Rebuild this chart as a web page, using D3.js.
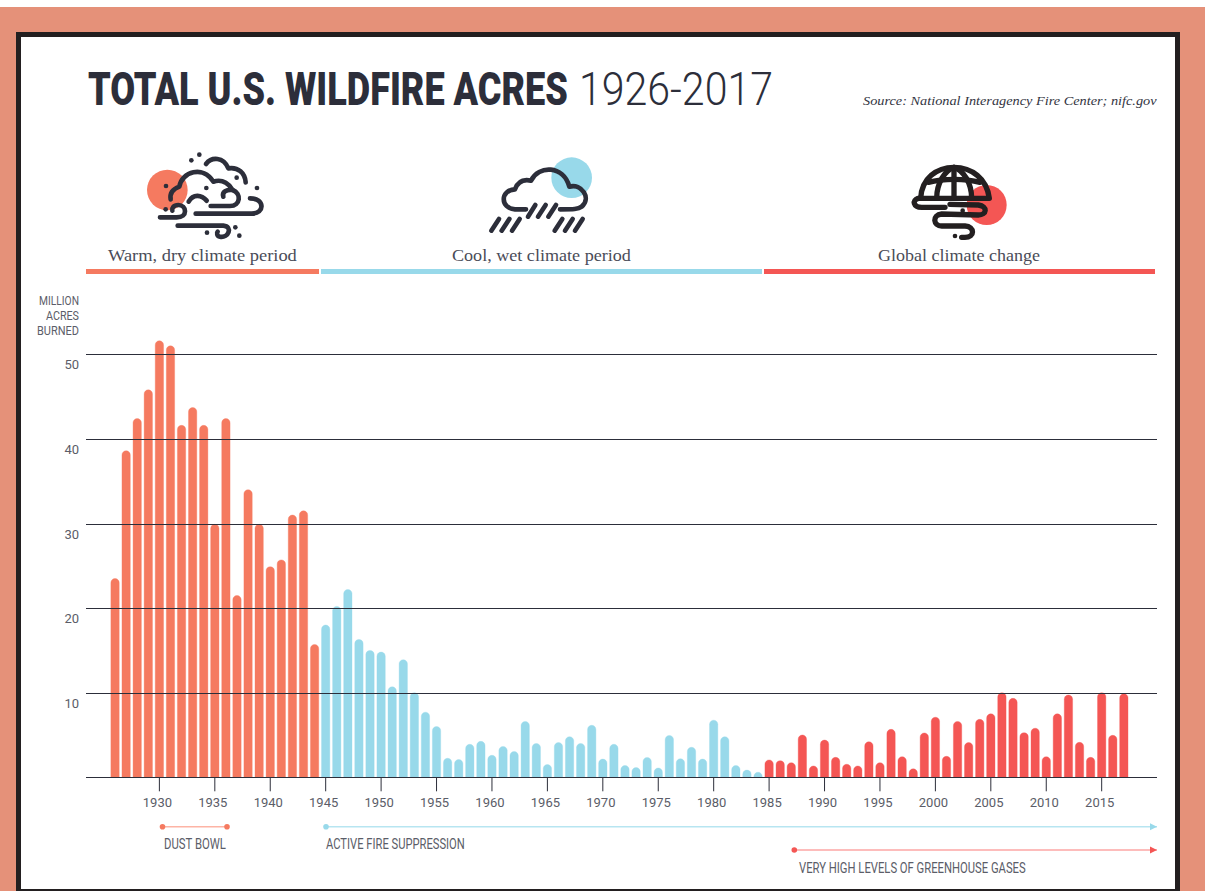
<!DOCTYPE html>
<html>
<head>
<meta charset="utf-8">
<script src="https://cdn.jsdelivr.net/npm/d3@7"></script>
<style>
  html, body { margin: 0; padding: 0; background: #fff; }
  svg { display: block; }
  text { font-family: Roboto, sans-serif; }
  .serif { font-family: "Liberation Serif", serif; }
</style>
</head>
<body>
<script>
// acres burned, in millions, one list per climate period
const warmDry = [23.5, 38.6, 42.4, 45.8, 51.6, 51, 41.6, 43.7, 41.6, 29.9, 42.4, 21.5, 34, 29.9, 24.9, 25.7, 31, 31.5, 15.7];
const coolWet = [18, 20.2, 22.2, 16.3, 15, 14.8, 10.7, 13.9, 10, 7.7, 6, 2.25, 2.1, 3.9, 4.25, 2.6, 3.65, 3.05, 6.6, 4,
  1.5, 4.1, 4.8, 4, 6.15, 2.15, 3.9, 1.4, 1.15, 2.35, 1.1, 4.95, 2.2, 3.55, 2.15, 6.75, 4.8, 1.4, 0.85, 0.6];
const climateChange = [2.05, 1.97, 1.73, 5, 1.34, 4.4, 2.36, 1.54, 1.34, 4.2, 1.73, 5.67, 2.44, 1, 5.24, 7.1, 2.48, 6.6, 4.1, 6.85,
  7.5, 10, 9.33, 5.28, 5.8, 2.44, 7.5, 9.72, 4.13, 2.36, 10, 4.96, 9.88];
const firstYear = 1926;
const yearTicks = d3.range(1930, 2016, 5);
const valueTicks = [10, 20, 30, 40, 50];

const orange = "#f57a60", blue = "#98d9ea", red = "#f45654", ink = "#2c2e3a", grey = "#5b5d68";

const width = 1205, height = 891;
const svg = d3.select("body").append("svg").attr("width", width).attr("height", height);

// page frame
svg.append("rect").attr("y", 7).attr("width", width).attr("height", height - 7).attr("fill", "#e59179");
svg.append("rect").attr("x", 18.5).attr("y", 34.5).attr("width", 1159).attr("height", 857)
  .attr("fill", "#fff").attr("stroke", "#231f20").attr("stroke-width", 5);

// text squeezed to the width it has in the reference
function label(x, y, txt, size, len, opts = {}) {
  const t = svg.append("text").text(txt)
    .attr("font-size", size)
    .attr("fill", opts.fill || grey)
    .attr("font-weight", opts.weight || 400);
  if (opts.cls) t.attr("class", opts.cls);
  if (opts.italic) t.attr("font-style", "italic");
  const natural = t.node().getComputedTextLength();
  t.attr("transform", `translate(${x},${y}) scale(${len / natural},1)`);
  return t;
}

// title
label(88, 105, "TOTAL U.S. WILDFIRE ACRES", 46, 480, { fill: ink, weight: 900 });
label(579, 105, "1926-2017", 46, 194, { fill: ink, weight: 300 });
label(863, 105, "Source: National Interagency Fire Center; nifc.gov", 13, 294, { cls: "serif", italic: true, fill: "#33353f" });

// icons, traced in zoomed up coordinates
function icon(ox, oy, color, sw, circle, paths, dots) {
  const g = svg.append("g").attr("transform", `translate(${ox},${oy}) scale(${1 / 3})`);
  g.append("circle").attr("cx", circle[0]).attr("cy", circle[1]).attr("r", circle[2]).attr("fill", circle[3]);
  g.selectAll("path").data(paths).join("path").attr("d", d => d)
    .attr("fill", "none").attr("stroke", color).attr("stroke-width", sw).attr("stroke-linecap", "round").attr("stroke-linejoin", "round");
  g.selectAll("circle.dot").data(dots).join("circle").attr("class", "dot")
    .attr("cx", d => d[0]).attr("cy", d => d[1]).attr("r", 7).attr("fill", color);
}
icon(80, 140, ink, 14, [262, 150, 61, orange], [
  "M378,72 C395,50 430,50 445,85 C475,80 495,100 497,127",
  "M272,178 C268,155 285,145 298,140 C305,95 370,75 400,125 C430,115 450,135 458,150 C485,160 482,198 450,198 L392,198",
  "M430,170 C425,155 440,148 458,150",
  "M326,185 C340,160 365,165 380,182",
  "M347,221 L515,221 C555,221 555,175 510,175",
  "M240,232 L290,232 C325,232 320,195 295,195 C280,195 275,205 277,212",
  "M293,257 L430,257 C460,260 445,295 420,290 C410,288 410,278 413,275"
], [[358, 44], [334, 61], [470, 113], [531, 144], [258, 138], [379, 144], [257, 208], [466, 262], [381, 278], [478, 287]]);
icon(450, 140, ink, 14, [365, 113, 61, blue], [
  "M228,208 L195,208 C150,205 150,150 195,148 C205,120 225,118 243,122 C265,75 340,75 358,140 C395,130 425,175 395,200 C385,208 370,208 330,208",
  "M234,230 L256,195", "M264,230 L287,195", "M295,230 L318,195",
  "M124,272 L147,237", "M155,272 L178,237", "M186,272 L209,237",
  "M314,272 L337,237", "M345,272 L368,237", "M375,272 L398,237"
], []);
icon(880, 150, "#231f20", 16, [320, 165, 60, red], [
  "M115,145 L328,145 C320,85 275,52 222,52 C170,52 125,85 122,145",
  "M222,52 L222,145",
  "M170,145 C170,100 195,60 222,52 C250,60 275,100 275,145",
  "M145,97 C190,85 255,85 300,97",
  "M115,145 C95,150 100,172 125,172 L195,172",
  "M210,163 L295,165 C325,170 320,195 295,195 L185,192 C155,195 160,228 185,228 L255,228 C285,230 285,262 255,262 L245,262"
], [[248, 182], [225, 258]]);

// climate period captions and rules
const periods = [
  { name: "Warm, dry climate period", c: orange, x0: 86, x1: 319, tx: 108, tl: 189 },
  { name: "Cool, wet climate period", c: blue, x0: 321, x1: 762, tx: 452, tl: 179 },
  { name: "Global climate change", c: red, x0: 764, x1: 1155, tx: 878, tl: 162 }
];
periods.forEach(p => {
  label(p.tx, 261, p.name, 17, p.tl, { cls: "serif", fill: "#4a4c58" });
  svg.append("rect").attr("x", p.x0).attr("y", 269).attr("width", p.x1 - p.x0).attr("height", 5).attr("fill", p.c);
});

// scales
const allValues = [...warmDry, ...coolWet, ...climateChange];
const rows = allValues.map((v, i) => ({
  year: firstYear + i,
  value: v,
  color: i < warmDry.length ? orange : i < warmDry.length + coolWet.length ? blue : red
}));
const x = d3.scaleBand().domain(rows.map(d => d.year)).range([109.5, 1129.4]).paddingInner(0.25).paddingOuter(0.125);
const y = d3.scaleLinear().domain([0, 50]).range([777.3, 354.3]);

// bars with a rounded top
function barPath(d) {
  const x0 = x(d.year), w = x.bandwidth(), top = y(d.value), base = y(0);
  const r = Math.min(w / 2, base - top);
  return `M${x0},${base}V${top + r}A${r},${r} 0 0 1 ${x0 + r},${top}H${x0 + w - r}A${r},${r} 0 0 1 ${x0 + w},${top + r}V${base}Z`;
}
svg.append("g").selectAll("path").data(rows).join("path").attr("d", barPath)
  .attr("fill", d => d.color)
  .attr("stroke", d => d.color).attr("stroke-opacity", 0.35).attr("stroke-width", 1);

// gridlines sit above the bars
svg.append("g").selectAll("line").data(valueTicks).join("line")
  .attr("x1", 86).attr("x2", 1157).attr("y1", d => y(d) + 0.5).attr("y2", d => y(d) + 0.5)
  .attr("stroke", ink).attr("stroke-width", 1).attr("shape-rendering", "crispEdges");

svg.append("g").selectAll("text").data(valueTicks).join("text")
  .attr("x", 79).attr("y", d => y(d) + 15).attr("text-anchor", "end")
  .attr("font-size", 13).attr("fill", grey).text(d => d);

// x axis
const xAxis = svg.append("g").attr("transform", `translate(0,${y(0)})`)
  .call(d3.axisBottom(x).tickValues(yearTicks).tickSize(14).tickSizeOuter(0).tickPadding(6));
xAxis.select(".domain").remove();
xAxis.selectAll("line").attr("stroke", ink);
xAxis.selectAll("text").attr("dx", -2).attr("font-size", 13).attr("fill", grey).attr("font-family", "Roboto");
svg.append("line").attr("x1", 86).attr("x2", 1157).attr("y1", y(0)).attr("y2", y(0))
  .attr("stroke", ink).attr("shape-rendering", "crispEdges");

// y axis caption
[["MILLION", 305, 40], ["ACRES", 320, 33], ["BURNED", 335, 42]].forEach(d => {
  label(79 - d[2], d[1], d[0], 13, d[2]);
});

// era annotations
const eras = [
  { text: "DUST BOWL", start: 162.5, end: 227, y: 826.7, c: orange, line: "#fdb4a5", tx: 164, ty: 848.5, tl: 62, arrow: false },
  { text: "ACTIVE FIRE SUPPRESSION", start: 326, end: 1157, y: 826.7, c: blue, line: "#b7e5f1", tx: 326, ty: 848.5, tl: 139, arrow: true },
  { text: "VERY HIGH LEVELS OF GREENHOUSE GASES", start: 794.3, end: 1157, y: 850, c: red, line: "#fda6a4", tx: 799, ty: 872.5, tl: 227, arrow: true }
];
eras.forEach(e => {
  svg.append("line").attr("x1", e.start).attr("x2", e.end).attr("y1", e.y).attr("y2", e.y)
    .attr("stroke", e.line).attr("stroke-width", 1.6);
  svg.append("circle").attr("cx", e.start).attr("cy", e.y).attr("r", 2.8).attr("fill", e.c);
  if (e.arrow) {
    svg.append("path").attr("d", `M${e.end - 7},${e.y - 3.5}L${e.end},${e.y}L${e.end - 7},${e.y + 3.5}Z`).attr("fill", e.c);
  } else {
    svg.append("circle").attr("cx", e.end).attr("cy", e.y).attr("r", 2.8).attr("fill", e.c);
  }
  label(e.tx, e.ty, e.text, 14, e.tl);
});
</script>
</body>
</html>
